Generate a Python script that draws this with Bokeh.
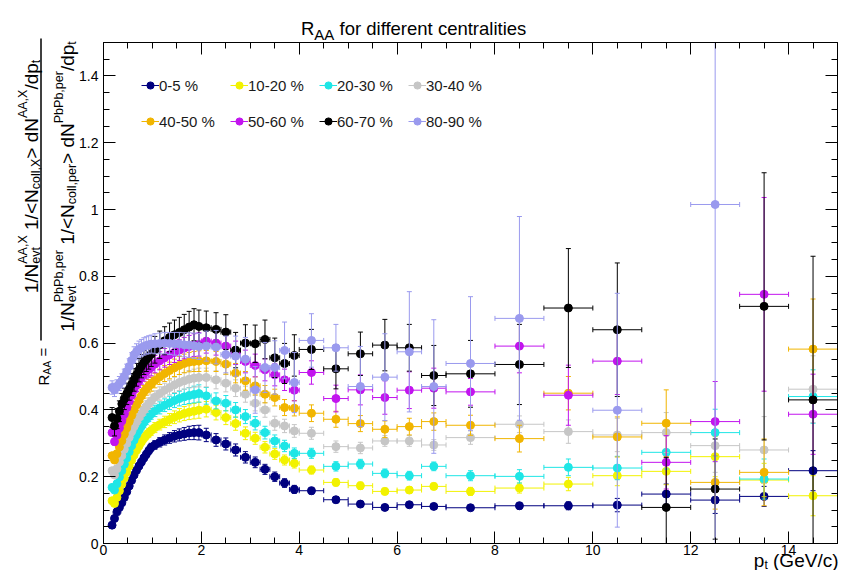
import math
import numpy as np
from bokeh.plotting import figure
from bokeh.models import (Range1d, LinearAxis, FixedTicker, Label, Legend, LegendItem,
                          Arrow, ColumnDataSource, CustomJSTickFormatter)
from bokeh.embed import file_html
from bokeh.resources import INLINE

nan = float("nan")

# ---------------- data ----------------
pt_edges = [0.15, 0.20, 0.25, 0.30, 0.35, 0.40, 0.45, 0.50, 0.55, 0.60, 0.65, 0.70, 0.75,
            0.80, 0.85, 0.90, 0.95, 1.00, 1.1, 1.2, 1.3, 1.4, 1.5, 1.6, 1.7, 1.8, 1.9, 2.0,
            2.2, 2.4, 2.6, 2.8, 3.0, 3.2, 3.4, 3.6, 3.8, 4.0, 4.5, 5.0, 5.5, 6.0, 6.5, 7.0,
            8, 9, 10, 11, 12, 13, 14, 15]

centralities = ["0-5 %", "10-20 %", "20-30 %", "30-40 %", "40-50 %", "50-60 %", "60-70 %", "80-90 %"]
colors = ["#00007f", "#f2f200", "#1ee6e6", "#c6c6c6", "#f1b500", "#c214ee", "#000000", "#9a9aee"]

raa_0_5 = [0.055, 0.075, 0.095, 0.108, 0.122, 0.138, 0.155, 0.172, 0.189, 0.205, 0.219, 0.232, 0.244, 0.256, 0.267, 0.278, 0.288,
           0.295, 0.303, 0.310, 0.316, 0.321, 0.325, 0.328, 0.331, 0.332, 0.332,
           0.325, 0.310, 0.298, 0.280, 0.258, 0.243, 0.222, 0.200, 0.181, 0.162,
           0.158, 0.131, 0.118, 0.108, 0.116, 0.111,
           0.107, 0.113, 0.113, 0.115, 0.148, 0.130, 0.141, 0.218]
raa_10_20 = [0.128, 0.120, 0.138, 0.158, 0.178, 0.196, 0.214, 0.232, 0.249, 0.265, 0.279, 0.292, 0.304, 0.315, 0.324, 0.331, 0.338,
             0.347, 0.356, 0.364, 0.371, 0.378, 0.384, 0.389, 0.393, 0.396, 0.399,
             0.402, 0.392, 0.377, 0.359, 0.330, 0.315, 0.288, 0.268, 0.250, 0.240,
             0.220, 0.183, 0.173, 0.156, 0.160, 0.171,
             0.156, 0.166, 0.178, 0.203, 0.216, 0.260, 0.190, 0.143]
raa_20_30 = [0.168, 0.160, 0.179, 0.199, 0.218, 0.237, 0.256, 0.275, 0.293, 0.310, 0.325, 0.339, 0.351, 0.362, 0.372, 0.380, 0.388,
             0.397, 0.406, 0.414, 0.421, 0.428, 0.434, 0.439, 0.443, 0.446, 0.449,
             0.442, 0.427, 0.420, 0.400, 0.380, 0.360, 0.332, 0.307, 0.292, 0.270,
             0.270, 0.231, 0.238, 0.210, 0.203, 0.231,
             0.203, 0.201, 0.228, 0.226, 0.273, 0.332, 0.193, 0.440]
raa_30_40 = [0.218, 0.205, 0.224, 0.244, 0.263, 0.282, 0.300, 0.318, 0.335, 0.350, 0.364, 0.377, 0.389, 0.400, 0.410, 0.419, 0.427,
             0.438, 0.449, 0.459, 0.467, 0.475, 0.482, 0.487, 0.492, 0.495, 0.497,
             0.497, 0.490, 0.480, 0.465, 0.447, 0.420, 0.400, 0.360, 0.352, 0.337,
             0.330, 0.290, 0.286, 0.307, 0.307, 0.295,
             0.317, 0.357, 0.335, 0.325, 0.332, 0.293, 0.280, 0.462]
raa_40_50 = [0.263, 0.250, 0.269, 0.289, 0.308, 0.327, 0.346, 0.365, 0.383, 0.400, 0.415, 0.429, 0.442, 0.454, 0.464, 0.471, 0.477,
             0.488, 0.499, 0.509, 0.518, 0.526, 0.533, 0.539, 0.543, 0.545, 0.546,
             0.547, 0.545, 0.537, 0.510, 0.487, 0.472, 0.447, 0.437, 0.407, 0.405,
             0.390, 0.372, 0.359, 0.342, 0.350, 0.365,
             0.354, 0.314, 0.450, 0.319, 0.360, 0.183, 0.213, 0.582]
raa_50_60 = [0.332, 0.305, 0.325, 0.346, 0.367, 0.387, 0.406, 0.425, 0.443, 0.460, 0.474, 0.487, 0.498, 0.508, 0.516, 0.522, 0.527,
             0.537, 0.547, 0.556, 0.565, 0.572, 0.579, 0.585, 0.590, 0.594, 0.596,
             0.606, 0.600, 0.591, 0.571, 0.545, 0.533, 0.520, 0.505, 0.490, 0.459,
             0.512, 0.434, 0.460, 0.437, 0.459, 0.465,
             0.454, 0.591, 0.444, 0.546, 0.243, 0.365, 0.746, 0.387]
raa_60_70 = [0.377, 0.352, 0.374, 0.396, 0.418, 0.433, 0.448, 0.462, 0.476, 0.490, 0.505, 0.519, 0.531, 0.542, 0.551, 0.559, 0.567,
             0.580, 0.595, 0.607, 0.617, 0.625, 0.632, 0.640, 0.648, 0.655, 0.650,
             0.646, 0.641, 0.633, 0.579, 0.600, 0.598, 0.611, 0.556, 0.539, 0.563,
             0.581, 0.523, 0.568, 0.594, 0.586, 0.503,
             0.508, 0.536, 0.705, 0.640, 0.108, 0.163, 0.710, 0.430]
raa_80_90 = [0.467, 0.460, 0.470, 0.479, 0.487, 0.500, 0.515, 0.530, 0.548, 0.565, 0.574, 0.581, 0.586, 0.590, 0.593, 0.595, 0.597,
             0.598, 0.599, 0.600, 0.599, 0.598, 0.597, 0.595, 0.594, 0.592, 0.590,
             0.591, 0.588, 0.566, 0.561, 0.552, 0.460, 0.527, 0.527, 0.578, 0.482,
             0.608, 0.586, 0.470, 0.498, 0.574, 0.470,
             0.539, 0.674, nan, 0.399, nan, 1.015, nan, nan]

err_0_5 = [0.004, 0.004, 0.005, 0.005, 0.006, 0.006, 0.007, 0.007, 0.008, 0.008, 0.009, 0.009, 0.010, 0.010, 0.011, 0.011, 0.012,
           0.013, 0.014, 0.015, 0.016, 0.017, 0.018, 0.019, 0.020, 0.021, 0.022,
           0.020, 0.019, 0.018, 0.018, 0.017, 0.016, 0.015, 0.014, 0.013, 0.012,
           0.010, 0.009, 0.008, 0.008, 0.008, 0.008,
           0.008, 0.010, 0.012, 0.020, 0.030, 0.040, 0.030, 0.060]
err_10_20 = [0.005, 0.005, 0.006, 0.006, 0.007, 0.007, 0.008, 0.008, 0.009, 0.009, 0.010, 0.011, 0.012, 0.012, 0.013, 0.013, 0.014,
             0.015, 0.016, 0.017, 0.018, 0.019, 0.020, 0.021, 0.022, 0.023, 0.024,
             0.023, 0.022, 0.021, 0.020, 0.019, 0.018, 0.017, 0.016, 0.015, 0.014,
             0.012, 0.011, 0.011, 0.010, 0.010, 0.010,
             0.012, 0.015, 0.020, 0.030, 0.040, 0.060, 0.050, 0.060]
err_20_30 = [0.006, 0.006, 0.007, 0.007, 0.008, 0.008, 0.009, 0.009, 0.010, 0.011, 0.012, 0.013, 0.014, 0.014, 0.015, 0.015, 0.016,
             0.017, 0.018, 0.019, 0.020, 0.021, 0.022, 0.023, 0.024, 0.025, 0.026,
             0.025, 0.024, 0.023, 0.022, 0.021, 0.020, 0.019, 0.018, 0.017, 0.016,
             0.015, 0.014, 0.014, 0.013, 0.013, 0.013,
             0.015, 0.020, 0.025, 0.035, 0.050, 0.070, 0.060, 0.080]
err_30_40 = [0.007, 0.007, 0.008, 0.008, 0.009, 0.009, 0.010, 0.011, 0.012, 0.013, 0.014, 0.015, 0.016, 0.016, 0.017, 0.017, 0.018,
             0.019, 0.020, 0.021, 0.022, 0.023, 0.024, 0.025, 0.026, 0.027, 0.028,
             0.028, 0.027, 0.026, 0.025, 0.024, 0.023, 0.022, 0.021, 0.020, 0.019,
             0.018, 0.017, 0.017, 0.016, 0.016, 0.016,
             0.020, 0.025, 0.035, 0.050, 0.060, 0.080, 0.100, 0.100]
err_40_50 = [0.008, 0.008, 0.009, 0.009, 0.010, 0.011, 0.012, 0.013, 0.014, 0.015, 0.016, 0.017, 0.018, 0.019, 0.020, 0.020, 0.021,
             0.022, 0.023, 0.024, 0.025, 0.026, 0.027, 0.028, 0.029, 0.030, 0.031,
             0.031, 0.030, 0.030, 0.029, 0.028, 0.027, 0.026, 0.025, 0.024, 0.023,
             0.025, 0.024, 0.024, 0.025, 0.025, 0.026,
             0.030, 0.040, 0.050, 0.060, 0.100, 0.080, 0.100, 0.150]
err_50_60 = [0.010, 0.010, 0.011, 0.012, 0.013, 0.014, 0.015, 0.016, 0.017, 0.018, 0.019, 0.020, 0.021, 0.022, 0.023, 0.024, 0.025,
             0.026, 0.027, 0.028, 0.029, 0.030, 0.031, 0.032, 0.033, 0.034, 0.035,
             0.036, 0.036, 0.035, 0.035, 0.034, 0.034, 0.033, 0.033, 0.032, 0.032,
             0.035, 0.040, 0.045, 0.050, 0.055, 0.060,
             0.040, 0.080, 0.090, 0.100, 0.080, 0.120, 0.290, 0.120]
err_60_70 = [0.030, 0.030, 0.030, 0.031, 0.031, 0.032, 0.032, 0.033, 0.033, 0.034, 0.034, 0.035, 0.035, 0.036, 0.036, 0.037, 0.037,
             0.040, 0.041, 0.042, 0.043, 0.044, 0.045, 0.046, 0.047, 0.048, 0.049,
             0.050, 0.050, 0.052, 0.053, 0.055, 0.056, 0.058, 0.059, 0.060, 0.062,
             0.060, 0.060, 0.065, 0.077, 0.070, 0.090,
             0.100, 0.120, 0.178, 0.200, 0.150, 0.150, 0.400, 0.430]
err_80_90 = [0.020, 0.020, 0.020, 0.021, 0.021, 0.022, 0.022, 0.023, 0.023, 0.024, 0.024, 0.025, 0.025, 0.026, 0.026, 0.027, 0.027,
             0.030, 0.031, 0.032, 0.033, 0.034, 0.035, 0.036, 0.037, 0.038, 0.039,
             0.045, 0.050, 0.055, 0.060, 0.065, 0.070, 0.075, 0.080, 0.085, 0.090,
             0.080, 0.070, 0.120, 0.130, 0.180, 0.200,
             0.200, 0.305, nan, 0.350, nan, 1.200, nan, nan]

raa_all = [raa_0_5, raa_10_20, raa_20_30, raa_30_40, raa_40_50, raa_50_60, raa_60_70, raa_80_90]
err_all = [err_0_5, err_10_20, err_20_30, err_30_40, err_40_50, err_50_60, err_60_70, err_80_90]

x_major = [0, 2, 4, 6, 8, 10, 12, 14]
y_major = [0, 0.2, 0.4, 0.6, 0.8, 1.0, 1.2, 1.4]

# ---------------- geometry ----------------
W, H = 841, 570
FL, FR, FT, FB = 103, 837, 42, 543   # edges of the drawn box, in canvas pixels
XMAX, YMAX = 15.0, 1.5
kx = (FR - FL) / XMAX
ky = (FB - FT) / YMAX

p = figure(width=W, height=H,
           x_range=Range1d(-FL / kx, XMAX + (W - FR) / kx),
           y_range=Range1d(-(H - FB) / ky, YMAX + FT / ky),
           output_backend="svg", toolbar_location=None, title=None,
           min_border_left=0, min_border_right=0, min_border_top=0, min_border_bottom=0)
p.grid.visible = False
p.outline_line_color = None
p.background_fill_color = "white"
p.border_fill_color = "white"

fmt = CustomJSTickFormatter(code="return String(Math.round(tick*100)/100)")
x_minor = [i * 0.5 for i in range(31)]
y_minor = [i * 0.05 for i in range(31)]


def style_axis(ax, ticks, minor, loc, bounds, show):
    ax.fixed_location = loc
    ax.bounds = bounds
    ax.ticker = FixedTicker(ticks=ticks, minor_ticks=minor)
    ax.formatter = fmt
    ax.axis_line_color = "black"
    ax.axis_line_width = 1
    ax.major_tick_line_color = "black"
    ax.minor_tick_line_color = "black"
    ax.major_tick_in = 12
    ax.major_tick_out = 0
    ax.minor_tick_in = 6
    ax.minor_tick_out = 0
    ax.major_label_text_font = "Liberation Sans"
    ax.major_label_text_font_size = "14px"
    if show:
        ax.major_label_text_color = "black"
    else:
        ax.major_label_text_color = None
        ax.major_label_text_alpha = 0


style_axis(p.xaxis[0], x_major, x_minor, 0, (0, XMAX), True)
p.xaxis[0].major_label_standoff = 1
style_axis(p.yaxis[0], y_major, y_minor, 0, (0, YMAX), True)
p.yaxis[0].major_label_standoff = 5

top_ax = LinearAxis()
p.add_layout(top_ax, "above")
style_axis(top_ax, x_major, x_minor, YMAX, (0, XMAX), False)
right_ax = LinearAxis()
p.add_layout(right_ax, "right")
style_axis(right_ax, y_major, y_minor, XMAX, (0, YMAX), False)

lo = np.array(pt_edges[:-1], dtype=float)
hi = np.array(pt_edges[1:], dtype=float)
xc = (lo + hi) / 2

legend_items = []
for name, col, vals, errs in zip(centralities, colors, raa_all, err_all):
    v = np.array(vals, dtype=float)
    e = np.array(errs, dtype=float)
    up = v + e
    dn = v - e
    # keep the bars inside the drawn box (as the frame does in the reference)
    up_c = np.minimum(up, YMAX)
    dn_c = np.maximum(dn, 0.0)
    cap_up = np.where(up <= YMAX, up, np.nan)
    cap_dn = np.where(dn >= 0.0, dn, np.nan)
    src = ColumnDataSource(dict(x=xc, lo=lo, hi=hi, y=v, ylo=dn_c, yhi=up_c,
                                cup=cap_up, cdn=cap_dn))
    p.segment(x0="x", y0="ylo", x1="x", y1="yhi", source=src, line_color=col, line_width=1)
    p.scatter(x="x", y="cdn", marker="dash", size=5, line_color=col, source=src)
    p.scatter(x="x", y="cup", marker="dash", size=5, line_color=col, source=src)
    rh = p.segment(x0="lo", y0="y", x1="hi", y1="y", source=src, line_color=col, line_width=1)
    p.scatter(x="lo", y="y", marker="dash", angle=math.pi / 2, size=5, line_color=col, source=src)
    p.scatter(x="hi", y="y", marker="dash", angle=math.pi / 2, size=5, line_color=col, source=src)
    rm = p.scatter(x="x", y="y", marker="circle", size=8, fill_color=col, line_color=col, source=src)
    legend_items.append(LegendItem(label=name, renderers=[rh, rm]))


def make_legend(items, vy):
    lg = Legend(items=items, orientation="horizontal", location=(141, vy),
                glyph_width=18, glyph_height=18, label_standoff=-3, label_width=71,
                spacing=0, padding=0, margin=0, border_line_color=None,
                background_fill_alpha=0, label_text_font="Liberation Sans",
                label_text_font_size="15px", label_text_color="#1a1a1a")
    p.add_layout(lg)


make_legend(legend_items[:4], H - 94)
make_legend(legend_items[4:], H - 130)

# ---------------- texts ----------------
CW = {' ': 278, '%': 889, '(': 333, ')': 333, ',': 278, '-': 333, '.': 278, '/': 278,
      '<': 584, '=': 584, '>': 584, 'A': 667, 'G': 778, 'N': 722, 'P': 667, 'R': 722, 'V': 667,
      'X': 667, 'a': 556, 'b': 556, 'c': 500, 'd': 556, 'e': 556, 'f': 278, 'i': 222, 'l': 222,
      'n': 556, 'o': 556, 'p': 556, 'r': 333, 's': 500, 't': 278, 'v': 500}


def tw(s, size):
    return sum(CW.get(ch, 556) for ch in s) * size / 1000.0


def dx(px):
    return (px - FL) / kx


def dy(py):
    return (FB - py) / ky


def put(px, py, text, size, angle=0.0):
    p.add_layout(Label(x=dx(px), y=dy(py), text=text, text_font="Liberation Sans",
                       text_font_size=f"{size:.1f}px", text_color="black", angle=angle,
                       text_align="left", text_baseline="alphabetic"))


def row(x0, yb, pieces):
    x = x0
    for txt, size, shift in pieces:
        if txt.strip():
            put(x, yb + shift, txt, size)
        x += tw(txt, size)


# title
row(300.5, 28, [("R", 18.5, 0), ("AA", 15, 6), (" ", 18.5, 0), ("for different centralities", 18.5, 0)])

# x-axis title, right aligned at the frame end
xl = [("p", 19, 0), ("t", 12, 4), (" ", 19, 0), ("(GeV/c)", 19, 0)]
row(838 - sum(tw(t, s) for t, s, _ in xl), 560, xl)


# rotated y-axis title
def col(xb, y_start, groups):
    y = y_start
    for grp in groups:
        adv = 0
        for txt, size, shift in grp:
            if txt.strip():
                put(xb + shift, y, txt, size, angle=math.pi / 2)
            adv = max(adv, tw(txt, size))
        y -= adv


def frac_part(xb, center, sup, sub_coll, M=19, S=12.5):
    upo, dno = -0.45 * M, 0.22 * M
    groups = [[("1/N", M, 0)], [(sup, S, upo), ("evt", S, dno)], [(" ", M, 0)], [("1/<N", M, 0)],
              [(sub_coll, S, dno)], [("> dN", M, 0)], [(sup, S, upo)], [("/dp", M, 0)], [("t", S, dno)]]
    total = sum(max(tw(t, s) for t, s, _ in g) for g in groups)
    col(xb, center + total / 2, groups)


frac_part(31, 176, "AA,X", "coll,X")
frac_part(67, 186, "PbPb,per", "coll,per")
p.add_layout(Arrow(end=None, x_start=dx(40.5), y_start=dy(340), x_end=dx(40.5), y_end=dy(38),
                   line_color="black", line_width=1.5))
col(42.5, 385, [[("R", 15, 0)], [("AA", 10.5, 3.5)], [(" ", 15, 0)], [("=", 15, 0)]])

open("out.html", "w").write(file_html(p, INLINE))
